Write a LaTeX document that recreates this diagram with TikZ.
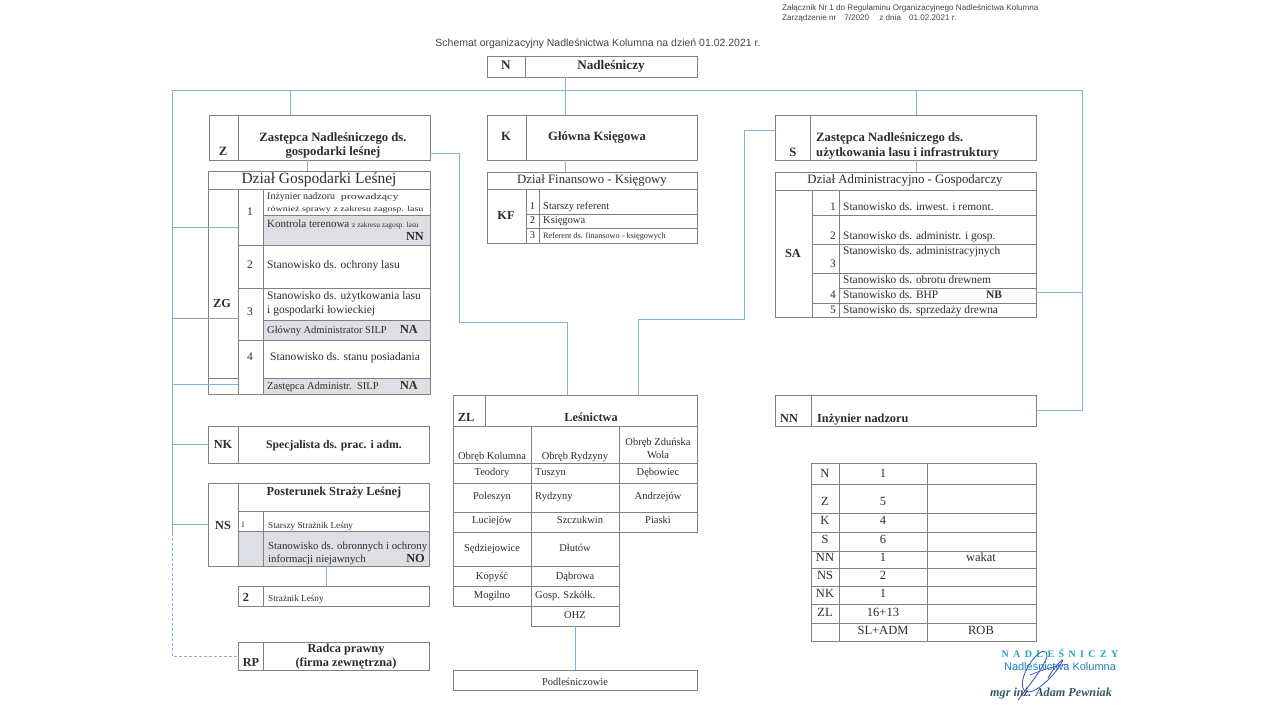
\documentclass[tikz,border=0pt]{standalone}
\usepackage{fontspec}
\setmainfont{Liberation Serif}
\newfontfamily\hsans{Liberation Sans}
\usetikzlibrary{fit}
\definecolor{bline}{RGB}{128,128,128}
\definecolor{cblue}{RGB}{130,178,222}
\definecolor{shd}{RGB}{222,223,228}
\definecolor{txtc}{RGB}{45,45,45}
\definecolor{hdrc}{RGB}{70,70,70}
\definecolor{tealc}{RGB}{35,165,170}
\definecolor{sigc}{RGB}{70,90,200}
\definecolor{namec}{RGB}{50,90,100}
\newcommand{\fsz}[1]{\fontsize{#1}{#1}\selectfont}
\tikzset{
  bx/.style={draw=bline, line width=0.8pt, inner sep=0pt, fit={#1}},
  shc/.style={fill=shd, draw=none, inner sep=0pt, fit={#1}},
  ln/.style={draw=bline, line width=0.8pt},
  conn/.style={draw=cblue, line width=1pt},
  t/.style={inner sep=0pt, text=txtc, anchor=mid, font=\fsz{11.5}},
  tl/.style={t, anchor=mid west},
  tr/.style={t, anchor=mid east},
  bt/.style={t, font=\bfseries\fsz{12.3}},
  bth/.style={t, font=\bfseries\fsz{12.7}},
  bthl/.style={bth, anchor=mid west},
  btl/.style={bt, anchor=mid west},
  hd/.style={t, font=\fsz{15.5}},
  sa/.style={tl, font=\fsz{11.4}},
  san/.style={tr, font=\fsz{11.4}},
  lt/.style={t, font=\fsz{10.5}},
  ltl/.style={tl, font=\fsz{10.5}},
  tb/.style={t, font=\fsz{12.5}},
}
\begin{document}
\begin{tikzpicture}[x=1pt,y=-1pt]
\useasboundingbox[fill=white] (0,0) rectangle (1280,720);

% ---------- header ----------
\node[inner sep=0pt, anchor=mid west, text=hdrc, font=\hsans\fsz{8.1}] (h1) at (782,8) {Załącznik Nr 1 do Regulaminu Organizacyjnego Nadleśnictwa Kolumna};
\node[inner sep=0pt, anchor=mid west, text=hdrc, font=\hsans\fsz{8.1}] (h2) at (782,18) {Zarządzenie nr\quad 7/2020\quad\ z dnia\quad 01.02.2021 r.};
\node[inner sep=0pt, anchor=mid, text=hdrc, font=\hsans\fsz{10.5}] (title) at (598,44) {Schemat organizacyjny Nadleśnictwa Kolumna na dzień 01.02.2021 r.};

% ---------- shaded cells ----------
\node[shc={(263,215)(430,245)}] (sh1) {};
\node[shc={(263,320)(430,340)}] (sh2) {};
\node[shc={(263,378)(430,394)}] (sh3) {};
\node[shc={(238,531)(429,566)}] (sh4) {};

% ---------- boxes ----------
\node[bx={(487,56)(697,77)}] (N) {};
\draw[ln] (525,56) -- (525,77);
\node[bt, font=\bfseries\fsz{13.2}] (tN1) at (506,67) {N};
\node[bt, font=\bfseries\fsz{13.2}] (tN2) at (611,67) {Nadleśniczy};

\node[bx={(209,115)(430,160)}] (Z) {};
\draw[ln] (238,115) -- (238,160);
\node[bth] (tZ1) at (223,153) {Z};
\node[bth] (tZ2) at (333,139) {Zastępca Nadleśniczego ds.};
\node[bth] (tZ3) at (333,153) {gospodarki leśnej};

\node[bx={(487,115)(697,160)}] (K) {};
\draw[ln] (526,115) -- (526,160);
\node[bth] (tK1) at (506,138) {K};
\node[bth] (tK2) at (597,138) {Główna Księgowa};

\node[bx={(775,115)(1036,160)}] (S) {};
\draw[ln] (810,115) -- (810,160);
\node[bth] (tS1) at (793,154) {S};
\node[bthl] (tS2) at (816,139) {Zastępca Nadleśniczego ds.};
\node[bthl] (tS3) at (816,154) {użytkowania lasu i infrastruktury};

% ZG
\node[bx={(208,171)(430,394)}] (ZG) {};
\draw[ln] (208,189) -- (430,189);
\draw[ln] (238,189) -- (238,394) (263,189) -- (263,394);
\draw[ln] (238,245) -- (430,245) (238,288) -- (430,288) (238,340) -- (430,340);
\draw[ln] (263,215) -- (430,215) (263,320) -- (430,320) (263,378) -- (430,378) (208,378) -- (238,378);
\node[hd] (tG0) at (319,181) {Dział Gospodarki Leśnej};
\node[bt] (tG1) at (222,305) {ZG};
\node[t] (tG2) at (250,213) {1};
\node[t] (tG3) at (250,266) {2};
\node[t] (tG4) at (250,313) {3};
\node[t] (tG5) at (250,358) {4};
\node[tl] (tG6) at (267,197) {{\fsz{10}Inżynier nadzoru}\ \ \scalebox{1.4}[1]{\fsz{8.5}prowadzący}};
\node[tl] (tG7) at (267,209) {\scalebox{1.32}[1]{\fsz{7.6}również sprawy z zakresu zagosp. lasu}};
\node[tl] (tG8) at (267,225) {{\fsz{11}Kontrola terenowa} {\fsz{7.4}z zakresu zagosp. lasu}};
\node[bt, anchor=mid east] (tG9) at (424,238) {NN};
\node[tl] (tG10) at (267,266) {Stanowisko ds. ochrony lasu};
\node[tl] (tG11) at (267,297) {Stanowisko ds. użytkowania lasu};
\node[tl] (tG12) at (267,311) {i gospodarki łowieckiej};
\node[tl, font=\fsz{10.5}] (tG13) at (267,331) {Główny Administrator SILP};
\node[bt, anchor=mid east] (tG14) at (418,331) {NA};
\node[tl] (tG15) at (270,358) {Stanowisko ds. stanu posiadania};
\node[tl, font=\fsz{10.5}] (tG16) at (267,387) {Zastępca Administr.\ \ SILP};
\node[bt, anchor=mid east] (tG17) at (418,387) {NA};

% KF
\node[bx={(487,172)(697,243)}] (KF) {};
\draw[ln] (487,189) -- (697,189);
\draw[ln] (526,189) -- (526,243) (539,189) -- (539,243);
\draw[ln] (526,214) -- (697,214) (526,228) -- (697,228);
\node[t, font=\fsz{12.8}] (tF0) at (592,181) {Dział Finansowo - Księgowy};
\node[bt] (tF1) at (506,217) {KF};
\node[t, font=\fsz{10.5}] (tF2) at (532.5,207) {1};
\node[t, font=\fsz{10.5}] (tF3) at (532.5,221) {2};
\node[t, font=\fsz{10.5}] (tF4) at (532.5,236) {3};
\node[tl, font=\fsz{10.5}] (tF5) at (543,207) {Starszy referent};
\node[tl, font=\fsz{10.5}] (tF6) at (543,221) {Księgowa};
\node[tl, font=\fsz{8.2}] (tF7) at (543,236) {Referent ds. finansowo - księgowych};

% SA
\node[bx={(775,172)(1036,317)}] (SA) {};
\draw[ln] (775,190) -- (1036,190);
\draw[ln] (812,190) -- (812,317) (839,190) -- (839,317);
\draw[ln] (812,215) -- (1036,215) (812,244) -- (1036,244) (812,273) -- (1036,273) (839,288) -- (1036,288) (812,303) -- (1036,303);
\node[t, font=\fsz{12.8}] (tA0) at (905,181) {Dział Administracyjno - Gospodarczy};
\node[bt] (tA1) at (793,255) {SA};
\node[san] (tA2) at (836,208) {1};
\node[san] (tA3) at (836,237) {2};
\node[san] (tA4) at (836,265) {3};
\node[san] (tA5) at (836,296) {4};
\node[san] (tA6) at (836,311) {5};
\node[sa] (tA7) at (843,208) {Stanowisko ds. inwest. i remont.};
\node[sa] (tA8) at (843,237) {Stanowisko ds. administr. i gosp.};
\node[sa] (tA9) at (843,252) {Stanowisko ds. administracyjnych};
\node[sa] (tA10) at (843,281) {Stanowisko ds. obrotu drewnem};
\node[sa] (tA11) at (843,296) {Stanowisko ds. BHP};
\node[bt, font=\bfseries\fsz{11.4}] (tA12) at (994,296) {NB};
\node[sa] (tA13) at (843,311) {Stanowisko ds. sprzedaży drewna};

% NK
\node[bx={(208,426)(429,463)}] (NK) {};
\draw[ln] (238,426) -- (238,463);
\node[bt] (tK3) at (223,446) {NK};
\node[bt, font=\bfseries\fsz{11.7}] (tK4) at (334,446) {Specjalista ds. prac. i adm.};

% NS
\node[bx={(208,483)(429,566)}] (NS) {};
\draw[ln] (238,483) -- (238,566) (238,511) -- (429,511) (263,511) -- (263,566) (238,531) -- (429,531);
\node[bt] (tS4) at (334,493) {Posterunek Straży Leśnej};
\node[bt] (tS5) at (223,527) {NS};
\node[t, font=\fsz{8.5}] (tS6) at (243,525) {1};
\node[tl, font=\fsz{9.2}] (tS7) at (268,526) {Starszy Strażnik Leśny};
\node[tl, font=\fsz{10.8}] (tS8) at (268,547) {Stanowisko ds. obronnych i ochrony};
\node[tl, font=\fsz{10.8}] (tS9) at (268,560) {informacji niejawnych};
\node[bt, anchor=mid east] (tS10) at (425,560) {NO};

\node[bx={(238,586)(429,606)}] (SL) {};
\draw[ln] (263,586) -- (263,606);
\node[bt] (tS11) at (246,599) {2};
\node[tl, font=\fsz{9.2}] (tS12) at (268,599) {Strażnik Leśny};

\node[bx={(238,642)(429,670)}] (RP) {};
\draw[ln] (263,642) -- (263,670);
\node[bt] (tR1) at (251,664) {RP};
\node[bt] (tR2) at (346,650) {Radca prawny};
\node[bt] (tR3) at (346,664) {(firma zewnętrzna)};

% ZL
\node[bx={(453,395)(697,426)}] (ZL) {};
\draw[ln] (485,395) -- (485,426);
\node[bt] (tL1) at (466,419) {ZL};
\node[bt] (tL2) at (591,419) {Leśnictwa};
\node[bx={(453,426)(531,606)}] (c1) {};
\node[bx={(531,426)(619,626)}] (c2) {};
\node[bx={(619,426)(697,532)}] (c3) {};
\node[bx={(531,606)(619,626)}] (OHZ) {};
\draw[ln] (453,463) -- (697,463) (453,483) -- (697,483) (453,512) -- (697,512)
          (453,532) -- (619,532) (453,566) -- (619,566) (453,586) -- (619,586);
\node[lt] (l1) at (492,457) {Obręb Kolumna};
\node[lt] (l2) at (575,457) {Obręb Rydzyny};
\node[lt] (l3) at (658,443) {Obręb Zduńska};
\node[lt] (l4) at (658,456) {Wola};
\node[lt] (l5) at (492,473) {Teodory};
\node[ltl] (l6) at (535,473) {Tuszyn};
\node[lt] (l7) at (658,473) {Dębowiec};
\node[lt] (l8) at (492,497) {Poleszyn};
\node[ltl] (l9) at (535,497) {Rydzyny};
\node[lt] (l10) at (658,497) {Andrzejów};
\node[lt] (l11) at (492,521) {Luciejów};
\node[lt] (l12) at (580,521) {Szczukwin};
\node[lt] (l13) at (658,521) {Piaski};
\node[lt] (l14) at (492,549) {Sędziejowice};
\node[lt] (l15) at (575,549) {Dłutów};
\node[lt] (l16) at (492,577) {Kopyść};
\node[lt] (l17) at (575,577) {Dąbrowa};
\node[lt] (l18) at (492,596) {Mogilno};
\node[ltl] (l19) at (535,596) {Gosp. Szkółk.};
\node[lt] (l20) at (575,616) {OHZ};

\node[bx={(453,670)(697,690)}] (Pod) {};
\node[lt] (l21) at (575,683) {Podleśniczowie};

% NN
\node[bx={(775,395)(1036,426)}] (NN) {};
\draw[ln] (811,395) -- (811,426);
\node[bt] (tN3) at (789,420) {NN};
\node[btl] (tN4) at (817,420) {Inżynier nadzoru};

% summary table
\node[bx={(811,463)(1036,641)}] (TB) {};
\draw[ln] (839,463) -- (839,641) (927,463) -- (927,641);
\foreach \yy in {484,513,532,551,568,586,604,623} \draw[ln] (811,\yy) -- (1036,\yy);
\node[tb] (b1) at (825,475) {N};   \node[tb] (b2) at (883,475) {1};
\node[tb] (b3) at (825,503) {Z};   \node[tb] (b4) at (883,503) {5};
\node[tb] (b5) at (825,522) {K};   \node[tb] (b6) at (883,522) {4};
\node[tb] (b7) at (825,541) {S};   \node[tb] (b8) at (883,541) {6};
\node[tb] (b9) at (825,559) {NN};  \node[tb] (b10) at (883,559) {1}; \node[tb] (b11) at (981,559) {wakat};
\node[tb] (b12) at (825,577) {NS}; \node[tb] (b13) at (883,577) {2};
\node[tb] (b14) at (825,595) {NK}; \node[tb] (b15) at (883,595) {1};
\node[tb] (b16) at (825,614) {ZL}; \node[tb] (b17) at (883,614) {16+13};
\node[tb] (b18) at (883,632) {SL+ADM}; \node[tb] (b19) at (981,632) {ROB};

% ---------- connectors ----------
\coordinate (topL) at (172,90);
\coordinate (topR) at (1082,90);
\coordinate (kx) at (565,0);
\coordinate (zx) at (290,0);
\coordinate (zgx) at (307,0);
\coordinate (sx) at (916,0);
\coordinate (zy) at (0,153);
\coordinate (zl1) at (459,322);
\coordinate (zlx1) at (567,0);
\coordinate (sy) at (0,130);
\coordinate (sl1) at (744,319);
\coordinate (zlx2) at (638,0);
\coordinate (say) at (0,292);
\coordinate (nny) at (0,410);
\coordinate (lsol) at (172,533);
\coordinate (colx) at (238,0);
\coordinate (stx) at (326,0);

\draw[conn] (topL) -- (topR);
\draw[conn] (N.south -| kx) -- (K.north -| kx);
\draw[conn] (K.south -| kx) -- (KF.north -| kx);
\draw[conn] (zx |- topL) -- (Z.north -| zx);
\draw[conn] (Z.south -| zgx) -- (ZG.north -| zgx);
\draw[conn] (sx |- topL) -- (S.north -| sx);
\draw[conn] (S.south -| sx) -- (SA.north -| sx);
\draw[conn] (Z.east |- zy) -| (zl1) -| (ZL.north -| zlx1);
\draw[conn] (S.west |- sy) -| (sl1) -| (ZL.north -| zlx2);
\draw[conn] (topR) |- (NN.east |- nny);
\draw[conn] (SA.east |- say) -- (topR |- say);
\draw[conn] (topL) -- (lsol);
\draw[conn, dashed, dash pattern=on 3pt off 2pt] (lsol) |- (RP.west);
\draw[conn] (topL |- 0,227) -- (colx |- 0,227);
\draw[conn, draw=cblue!70!gray] (topL |- 0,318) -- (colx |- 0,318);
\draw[conn] (topL |- 0,384) -- (colx |- 0,384);
\draw[conn] (topL |- NK.west) -- (NK.west);
\draw[conn] (topL |- NS.west) -- (NS.west);
\draw[conn] (NS.south -| stx) -- (SL.north -| stx);
\draw[conn] (OHZ.south) -- (Pod.north);

% ---------- signature ----------
\node[inner sep=0pt, text=tealc, font=\bfseries\fsz{10}] (sg1) at (1060,653) {N\hspace{4.4pt}A\hspace{4.4pt}D\hspace{4.4pt}L\hspace{4.4pt}E\hspace{4.4pt}Ś\hspace{4.4pt}N\hspace{4.4pt}I\hspace{4.4pt}C\hspace{4.4pt}Z\hspace{4.4pt}Y};
\node[inner sep=0pt, text=tealc!80!blue, font=\hsans\fsz{11}] (sg2) at (1060,666) {Nadleśnictwa Kolumna};
\draw[sigc, line width=0.9pt] (1018,700) .. controls (1030,684) and (1052,658) .. (1046,652)
   .. controls (1038,646) and (1016,680) .. (1024,690)
   .. controls (1032,699) and (1056,674) .. (1062,662)
   .. controls (1066,654) and (1052,670) .. (1048,678);
\draw[sigc, line width=0.7pt] (1030,675) .. controls (1042,670) and (1054,666) .. (1068,664);
\node[inner sep=0pt, text=namec, font=\bfseries\itshape\fsz{12.2}] (sg3) at (1051,693) {mgr inż. Adam Pewniak};
\end{tikzpicture}
\end{document}
